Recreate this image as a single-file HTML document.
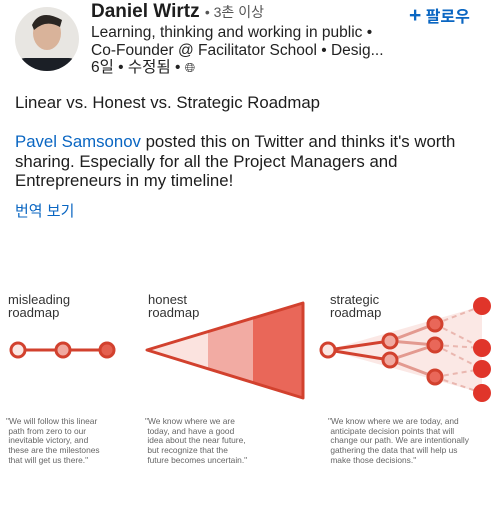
<!DOCTYPE html>
<html><head><meta charset="utf-8"><style>
body{margin:0;width:500px;height:506px;background:#fff;font-family:"Liberation Sans","Noto Sans CJK KR",sans-serif;color:#1d1d1d;position:relative;overflow:hidden}
.a{position:absolute;white-space:nowrap}
</style></head><body>
<svg class="a" style="left:0;top:0" width="500" height="506">
<defs><clipPath id="c"><circle cx="47" cy="39" r="32"/></clipPath></defs>
<g clip-path="url(#c)"><rect x="10" y="0" width="80" height="80" fill="#e8e6e2"/>
<ellipse cx="47" cy="33" rx="14" ry="17" fill="#d9b39a"/>
<path d="M32 25 Q40 8 62 20 L60 27 Q46 19 34 30Z" fill="#2b2622"/>
<rect x="15" y="58" width="64" height="20" rx="10" fill="#1b1f26"/></g>
<line x1="18" y1="350" x2="107" y2="350" stroke="#d2412e" stroke-width="3"/>
<circle cx="18" cy="350" r="7" fill="#fbe6e2" stroke="#d2412e" stroke-width="3"/>
<circle cx="63" cy="350" r="7" fill="#f0a9a0" stroke="#d2412e" stroke-width="3"/>
<circle cx="107" cy="350" r="7" fill="#e4604f" stroke="#d2412e" stroke-width="3"/>
<polygon points="147,350 208,332 208,368" fill="#fbe3df"/>
<polygon points="208,332 253,318 253,382 208,368" fill="#f2aba3"/>
<polygon points="253,318 303,303 303,398 253,382" fill="#e96759"/>
<polygon points="147,350 303,303 303,398" fill="none" stroke="#d2412e" stroke-width="3" stroke-linejoin="round"/>
<polygon points="328,350 482,306 482,393" fill="#fbe8e5"/>
<g stroke="#eab7b0" stroke-width="2" stroke-dasharray="5,4">
<line x1="435" y1="324" x2="482" y2="306"/><line x1="435" y1="324" x2="482" y2="348"/>
<line x1="435" y1="345" x2="482" y2="348"/><line x1="435" y1="345" x2="482" y2="369"/>
<line x1="435" y1="377" x2="482" y2="369"/><line x1="435" y1="377" x2="482" y2="393"/></g>
<g stroke="#e39a90" stroke-width="3">
<line x1="390" y1="341" x2="435" y2="324"/><line x1="390" y1="341" x2="435" y2="345"/>
<line x1="390" y1="360" x2="435" y2="345"/><line x1="390" y1="360" x2="435" y2="377"/></g>
<g stroke="#d2412e" stroke-width="3"><line x1="328" y1="350" x2="390" y2="341"/><line x1="328" y1="350" x2="390" y2="360"/></g>
<circle cx="328" cy="350" r="7" fill="#fbe6e2" stroke="#d2412e" stroke-width="3"/>
<g fill="#f0a9a0" stroke="#d2412e" stroke-width="3"><circle cx="390" cy="341" r="7"/><circle cx="390" cy="360" r="7"/></g>
<g fill="#e96759" stroke="#d2412e" stroke-width="3"><circle cx="435" cy="324" r="7"/><circle cx="435" cy="345" r="7"/><circle cx="435" cy="377" r="7"/></g>
<g fill="#e0352a"><circle cx="482" cy="306" r="9"/><circle cx="482" cy="348" r="9"/><circle cx="482" cy="369" r="9"/><circle cx="482" cy="393" r="9"/></g>
</svg>
<div class="a" style="left:91px;top:1px;font-size:19px;font-weight:bold">Daniel Wirtz <span style="font-weight:normal;font-size:14px;color:#555">• 3촌 이상</span></div>
<div class="a" style="left:409px;top:3px;font-size:16px;color:#0a66c2;font-weight:bold"><span style="font-size:21px">+</span> 팔로우</div>
<div class="a" style="left:91px;top:24px;font-size:15.5px;line-height:17.5px;color:#222">Learning, thinking and working in public •<br>Co-Founder @ Facilitator School • Desig...<br>6일 • 수정됨 • <span style="font-size:13px">🌐︎</span></div>
<div class="a" style="left:15px;top:93px;font-size:16.8px">Linear vs. Honest vs. Strategic Roadmap</div>
<div class="a" style="left:15px;top:132px;font-size:16.8px;line-height:19.5px"><span style="color:#0a66c2">Pavel Samsonov</span> posted this on Twitter and thinks it's worth<br>sharing. Especially for all the Project Managers and<br>Entrepreneurs in my timeline!</div>
<div class="a" style="left:15px;top:200px;font-size:15px;color:#0a66c2">번역 보기</div>
<div class="a" style="left:8px;top:293px;font-size:13px;line-height:13px;color:#333">misleading<br>roadmap</div>
<div class="a" style="left:148px;top:293px;font-size:13px;line-height:13px;color:#333">honest<br>roadmap</div>
<div class="a" style="left:330px;top:293px;font-size:13px;line-height:13px;color:#333">strategic<br>roadmap</div>
<div class="a" style="left:6px;top:417px;font-size:8.4px;line-height:9.7px;color:#666">"We will follow this linear<br>&nbsp;path from zero to our<br>&nbsp;inevitable victory, and<br>&nbsp;these are the milestones<br>&nbsp;that will get us there."</div>
<div class="a" style="left:145px;top:417px;font-size:8.4px;line-height:9.7px;color:#666">"We know where we are<br>&nbsp;today, and have a good<br>&nbsp;idea about the near future,<br>&nbsp;but recognize that the<br>&nbsp;future becomes uncertain."</div>
<div class="a" style="left:328px;top:417px;font-size:8.4px;line-height:9.7px;color:#666">"We know where we are today, and<br>&nbsp;anticipate decision points that will<br>&nbsp;change our path. We are intentionally<br>&nbsp;gathering the data that will help us<br>&nbsp;make those decisions."</div>
</body></html>
